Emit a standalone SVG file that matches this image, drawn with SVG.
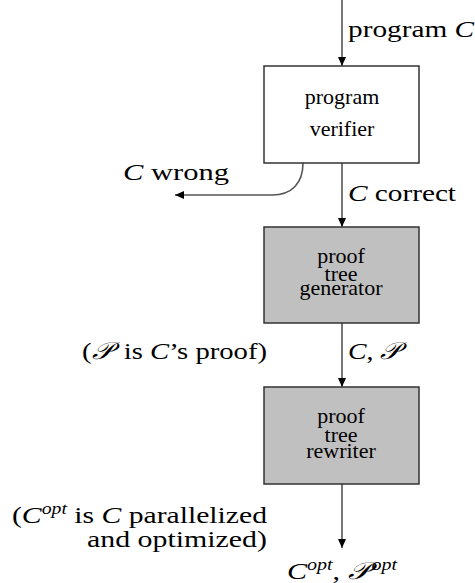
<svg xmlns="http://www.w3.org/2000/svg" width="475" height="583" viewBox="0 0 475 583">
<defs>
<marker id="ah" markerWidth="10" markerHeight="8" refX="9" refY="4" orient="auto" markerUnits="userSpaceOnUse">
<path d="M0,0 L9,4 L0,8 Z" fill="#000"/>
</marker>
<style>
.box{stroke:#333;stroke-width:1.5}
.white{fill:#fff}
.gray{fill:#c0c0c0}
.edge{fill:none;stroke:#555;stroke-width:1.6;marker-end:url(#ah)}
text{fill:#000}
.lbl{font-family:'Liberation Serif',serif;font-size:24px}
.nt{font-family:'Liberation Serif',serif;font-size:22px;text-anchor:middle}
.m{font-style:italic}
.sup{font-style:italic;font-size:16px}
</style>
</defs>
<rect width="475" height="583" fill="#fff"/>
<g id="connectors">
<path class="edge" d="M342,0 V66"/>
<path class="edge" d="M342,163 V227"/>
<path class="edge" d="M342,323 V387"/>
<path class="edge" d="M342,484 V548"/>
<path class="edge" d="M303,163 C303,183 292,195 272,195 L175,195"/>
</g>
<g id="verifier">
<rect class="box white" x="264" y="66" width="155" height="97"/>
<text class="nt" x="342" y="104">program</text>
<text class="nt" x="342" y="136">verifier</text>
</g>
<g id="generator">
<rect class="box gray" x="264" y="227" width="155" height="96"/>
<text class="nt" x="341" y="263">proof</text>
<text class="nt" x="341" y="281">tree</text>
<text class="nt" x="341" y="295">generator</text>
</g>
<g id="rewriter">
<rect class="box gray" x="264" y="387" width="155" height="97"/>
<text class="nt" x="341" y="423">proof</text>
<text class="nt" x="341" y="442">tree</text>
<text class="nt" x="341" y="458">rewriter</text>
</g>
<g id="labels">
<text class="lbl" x="348" y="37" textLength="126" lengthAdjust="spacingAndGlyphs">program <tspan class="m">C</tspan></text>
<text class="lbl" x="123" y="180" textLength="106" lengthAdjust="spacingAndGlyphs"><tspan class="m">C</tspan> wrong</text>
<text class="lbl" x="348" y="201" textLength="108" lengthAdjust="spacingAndGlyphs"><tspan class="m">C</tspan> correct</text>
<text class="lbl" x="348" y="359" textLength="52" lengthAdjust="spacingAndGlyphs"><tspan class="m">C</tspan>, <tspan class="m">𝒫</tspan></text>
<text class="lbl" x="82" y="359" textLength="185" lengthAdjust="spacingAndGlyphs">(<tspan class="m">𝒫</tspan><tspan dx="4"> is </tspan><tspan class="m">C</tspan>’s proof)</text>
<text class="lbl" x="12" y="523" textLength="255" lengthAdjust="spacingAndGlyphs">(<tspan class="m">C</tspan><tspan class="sup" dy="-9">opt</tspan><tspan dy="9"> is </tspan><tspan class="m">C</tspan> parallelized</text>
<text class="lbl" x="87" y="547" textLength="180" lengthAdjust="spacingAndGlyphs">and optimized)</text>
<text class="lbl" x="287" y="579" textLength="110" lengthAdjust="spacingAndGlyphs"><tspan class="m">C</tspan><tspan class="sup" dy="-9">opt</tspan><tspan dy="9">, </tspan><tspan class="m">𝒫</tspan><tspan class="sup" dy="-9" dx="2">opt</tspan></text>
</g>
</svg>
